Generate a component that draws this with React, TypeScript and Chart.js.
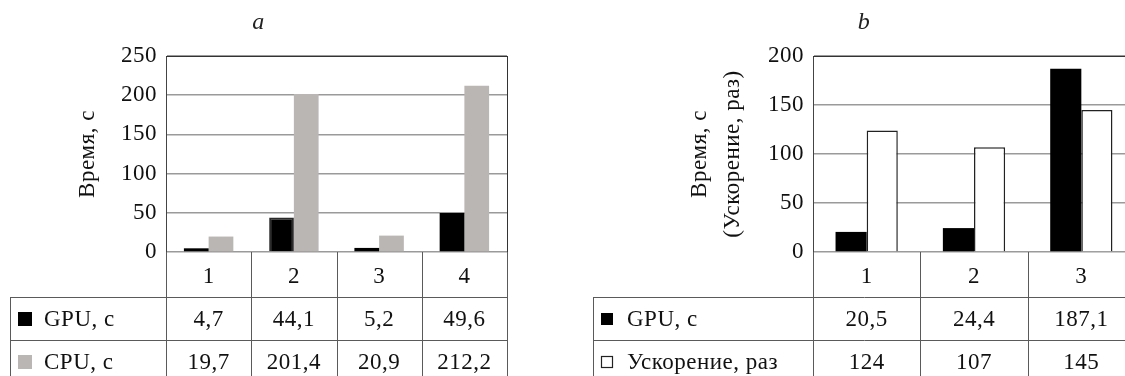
import React, { useEffect, useRef } from "react";
import { Chart, registerables } from "chart.js";

Chart.register(...registerables);

// ---------- data ----------
const categoriesA = ["1", "2", "3", "4"];
const gpuA = [4.7, 44.1, 5.2, 49.6];
const cpuA = [19.7, 201.4, 20.9, 212.2];
const yMaxA = 250;

const categoriesB = ["1", "2", "3"];
const gpuB = [20.5, 24.4, 187.1];
const speedupB = [124, 107, 145];
const yMaxB = 200;

const yStep = 50;

// ---------- styling ----------
const FONT = "'Liberation Serif', 'Times New Roman', serif";
const FS = 23;
const TEXT = "#111";

const fmt = (v: number) =>
  Number.isInteger(v) ? String(v) : v.toFixed(1).replace(".", ",");

const spacingPlugin = {
  id: "spacing",
  beforeDraw(chart: any) {
    try {
      (chart.ctx as any).letterSpacing = "0.5px";
    } catch (e) {
      /* ignore */
    }
  },
};

type TableCfg = {
  tableLeft: number;
  rowHeight: number;
  swatch: number;
  swatchX: number;
  labelX: number;
};

function makeTablePlugin(cfg: TableCfg) {
  return {
    id: "dataTable",
    afterDraw(chart: any) {
      const { ctx, chartArea } = chart;
      const xs = chart.scales.x;
      const n = chart.data.labels.length;
      const half = (chartArea.right - chartArea.left) / n / 2;
      const headTop = chartArea.bottom;
      const rowsTop = xs.bottom;
      const datasets = chart.data.datasets;
      const tableBottom = rowsTop + cfg.rowHeight * datasets.length;
      const snap = (v: number) => Math.round(v) + 0.5;
      const line = (x1: number, y1: number, x2: number, y2: number) => {
        ctx.beginPath();
        ctx.moveTo(x1, y1);
        ctx.lineTo(x2, y2);
        ctx.stroke();
      };
      ctx.save();
      ctx.lineWidth = 1;
      ctx.strokeStyle = "#5a5a5a";
      for (let i = 0; i < n; i++) {
        const c = xs.getPixelForValue(i);
        line(snap(c - half), headTop, snap(c - half), tableBottom);
      }
      line(snap(chartArea.right), headTop, snap(chartArea.right), tableBottom);
      for (let r = 0; r <= datasets.length; r++) {
        const y = snap(rowsTop + r * cfg.rowHeight);
        line(cfg.tableLeft, y, chartArea.right + 1, y);
      }
      line(snap(cfg.tableLeft), snap(rowsTop), snap(cfg.tableLeft), tableBottom);

      // plot frame (top & right)
      ctx.strokeStyle = "#333";
      line(chartArea.left, snap(chartArea.top), chartArea.right + 1, snap(chartArea.top));
      line(snap(chartArea.right), chartArea.top, snap(chartArea.right), chartArea.bottom);

      // rows
      ctx.font = `${FS}px ${FONT}`;
      ctx.textBaseline = "middle";
      datasets.forEach((ds: any, r: number) => {
        const cy = rowsTop + r * cfg.rowHeight + cfg.rowHeight / 2;
        const s = cfg.swatch;
        const sx = cfg.swatchX;
        const sy = Math.round(cy - s / 2);
        ctx.fillStyle = ds.swatchFill;
        ctx.fillRect(sx, sy, s, s);
        if (ds.swatchStroke) {
          ctx.strokeStyle = ds.swatchStroke;
          ctx.lineWidth = 1.2;
          ctx.strokeRect(sx + 0.5, sy + 0.5, s - 1, s - 1);
        }
        ctx.fillStyle = TEXT;
        ctx.textAlign = "left";
        ctx.fillText(ds.label, cfg.labelX, cy + 1);
        ctx.textAlign = "center";
        ds.data.forEach((v: number, i: number) => {
          ctx.fillText(fmt(v), xs.getPixelForValue(i), cy + 1);
        });
      });
      ctx.restore();
    },
  };
}

type PanelOpts = {
  title: string;
  labels: string[];
  datasets: any[];
  yMax: number;
  yTitle: string | string[];
  yTitleLineHeight: number;
  yTitlePad: number;
  padLeft: number;
  padRight: number;
  yWidth: number;
  table: TableCfg;
};

function buildConfig(p: PanelOpts): any {
  return {
    type: "bar",
    data: { labels: p.labels, datasets: p.datasets },
    plugins: [spacingPlugin, makeTablePlugin(p.table)],
    options: {
      responsive: false,
      animation: false,
      devicePixelRatio: 1,
      layout: { padding: { left: p.padLeft, right: p.padRight, top: 0, bottom: 79 } },
      datasets: { bar: { categoryPercentage: 0.58, barPercentage: 1.0 } },
      plugins: {
        legend: { display: false },
        tooltip: { enabled: false },
        title: {
          display: true,
          text: p.title,
          color: "#222",
          font: { family: FONT, size: 24, style: "italic", weight: "normal", lineHeight: 1.2 },
          padding: { top: 8, bottom: 19.2 },
        },
      },
      scales: {
        x: {
          grid: { display: false, drawTicks: false },
          border: { display: false },
          ticks: { color: TEXT, font: { family: FONT, size: FS, lineHeight: 1.2 }, padding: 11, maxRotation: 0 },
          afterFit: (s: any) => {
            s.height = 45;
          },
        },
        y: {
          min: 0,
          max: p.yMax,
          ticks: { stepSize: yStep, color: TEXT, font: { family: FONT, size: FS }, padding: 9 },
          grid: { color: "#9a9a9a", lineWidth: 1.5, drawTicks: false },
          border: { display: true, color: "#444", width: 1 },
          title: {
            display: true,
            text: p.yTitle,
            color: TEXT,
            font: { family: FONT, size: FS, lineHeight: p.yTitleLineHeight },
            padding: { top: p.yTitlePad, bottom: 0 },
          },
          afterFit: (s: any) => {
            s.width = p.yWidth;
          },
        },
      },
    },
  };
}

const configA = (): any =>
  buildConfig({
    title: "a",
    labels: categoriesA,
    datasets: [
      {
        label: "GPU, с",
        data: gpuA,
        backgroundColor: "#000",
        borderColor: "#2b2b2b",
        borderWidth: [0, 2, 0, 0],
        swatchFill: "#000",
      },
      {
        label: "CPU, с",
        data: cpuA,
        backgroundColor: "#bab6b3",
        borderWidth: 0,
        swatchFill: "#bab6b3",
      },
    ],
    yMax: yMaxA,
    yTitle: "Время, с",
    yTitleLineHeight: 1.2,
    yTitlePad: 64.2,
    padLeft: 10,
    padRight: 53,
    yWidth: 156,
    table: { tableLeft: 10, rowHeight: 43, swatch: 14, swatchX: 18, labelX: 44 },
  });

const configB = (): any =>
  buildConfig({
    title: "b",
    labels: categoriesB,
    datasets: [
      {
        label: "GPU, с",
        data: gpuB,
        backgroundColor: "#000",
        borderWidth: 0,
        swatchFill: "#000",
      },
      {
        label: "Ускорение, раз",
        data: speedupB,
        backgroundColor: "#fff",
        borderColor: "#222",
        borderWidth: 1.5,
        swatchFill: "#fff",
        swatchStroke: "#222",
      },
    ],
    yMax: yMaxB,
    yTitle: ["Время, с", "(Ускорение, раз)"],
    yTitleLineHeight: 1.45,
    yTitlePad: 90.3,
    padLeft: 33,
    padRight: 25,
    yWidth: 220,
    table: { tableLeft: 33, rowHeight: 43, swatch: 12, swatchX: 41, labelX: 67 },
  });

function Panel({ make, left, width }: { make: () => any; left: number; width: number }) {
  const ref = useRef<HTMLCanvasElement>(null);
  useEffect(() => {
    const chart = new Chart(ref.current as HTMLCanvasElement, make());
    return () => chart.destroy();
  }, []);
  return (
    <canvas
      ref={ref}
      width={width}
      height={376}
      style={{ position: "absolute", left, top: 0, width, height: 376, display: "block" }}
    />
  );
}

export default function App() {
  return (
    <div
      style={{
        position: "absolute",
        left: 0,
        top: 0,
        width: 1125,
        height: 376,
        overflow: "hidden",
        background: "#fff",
      }}
    >
      <Panel make={configA} left={0} width={560} />
      <Panel make={configB} left={560} width={600} />
    </div>
  );
}
